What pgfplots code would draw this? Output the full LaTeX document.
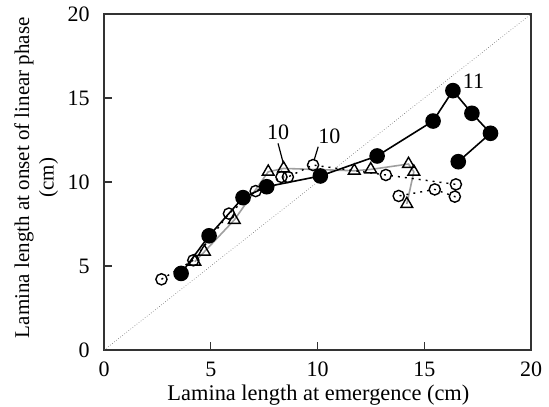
\documentclass[border=0pt]{standalone}
\usepackage{pgfplots}
\pgfplotsset{compat=1.18}
\usepackage{fontspec}
\setmainfont{Liberation Serif}
\begin{document}
\begin{tikzpicture}
\begin{axis}[
  scale only axis, width=213.5pt, height=168pt,
  xmin=0, xmax=20, ymin=0, ymax=20,
  xtick={0,5,10,15,20}, ytick={0,5,10,15,20},
  tick align=inside, xtick pos=bottom, ytick pos=left,
  major tick length=4pt,
  axis line style={line width=0.7pt, black!80},
  tick style={line width=0.6pt, black!80},
  /pgf/number format/assume math mode=true,
  ticklabel style={font=\fontsize{11}{12}\selectfont, inner sep=0pt},
  xticklabel style={anchor=north, yshift=-5.8pt},
  yticklabel style={anchor=east, xshift=-7pt},
  xlabel={Lamina length at emergence (cm)},
  xlabel style={font=\fontsize{11.2}{13}\selectfont, at={(rel axis cs:0.502,-0.134)}, anchor=center},
  ylabel={Lamina length at onset of linear phase\\(cm)},
  ylabel style={font=\fontsize{10.5}{12.25}\selectfont, align=center, at={(rel axis cs:-0.159,0.513)}, anchor=center},
  clip=false,
]
\addplot[black!60, line width=0.3pt, densely dotted, forget plot] coordinates {(0,0) (20,20)};
% triangles, gray line
\addplot[gray!75, line width=0.8pt, mark=triangle, mark size=3.4pt,
  mark options={solid, draw=black, line width=0.7pt, fill=none}] coordinates {
(4.25,5.26) (4.70,5.85) (6.10,7.74) (7.69,10.61) (8.41,10.81) (11.72,10.67)
(12.49,10.75) (14.26,11.07) (14.51,10.61) (14.18,8.69)};
% open circles, dashed-dotted line
\addplot[black, line width=0.7pt, dash pattern=on 1pt off 2.5pt, mark=o, mark size=2.8pt,
  mark options={solid, draw=black, line width=0.7pt, fill=none}] coordinates {
(2.69,4.21) (4.18,5.34) (5.85,8.12) (7.10,9.46) (8.31,10.30) (8.61,10.30)
(9.79,11.01) (13.20,10.42) (16.48,9.86) (16.43,9.13) (15.49,9.56) (13.80,9.17)};
% filled circles, black line
\addplot[black, line width=0.8pt, mark=*, mark size=3.5pt,
  mark options={solid, fill=black}] coordinates {
(3.61,4.56) (4.92,6.80) (6.51,9.07) (7.62,9.72) (10.13,10.36) (12.79,11.55)
(15.41,13.63) (16.34,15.44) (17.23,14.09) (18.10,12.90) (16.59,11.21)};
% annotations
\draw[black, line width=0.6pt] (axis cs:8.15,12.3) -- (axis cs:8.40,11.1);
\node[font=\fontsize{11}{12}\selectfont] at (axis cs:8.15,12.95) {10};
\draw[black, line width=0.6pt] (axis cs:10.03,12.1) -- (axis cs:9.84,11.3);
\node[font=\fontsize{11}{12}\selectfont] at (axis cs:10.55,12.7) {10};
\node[font=\fontsize{11}{12}\selectfont] at (axis cs:17.3,16.0) {11};
\coordinate (bl) at (rel axis cs:-0.2436,-0.1667);
\coordinate (tr) at (rel axis cs:1.042,1.0417);
\end{axis}
\pgfresetboundingbox
\path[use as bounding box] (bl) rectangle (tr);
\end{tikzpicture}
\end{document}
